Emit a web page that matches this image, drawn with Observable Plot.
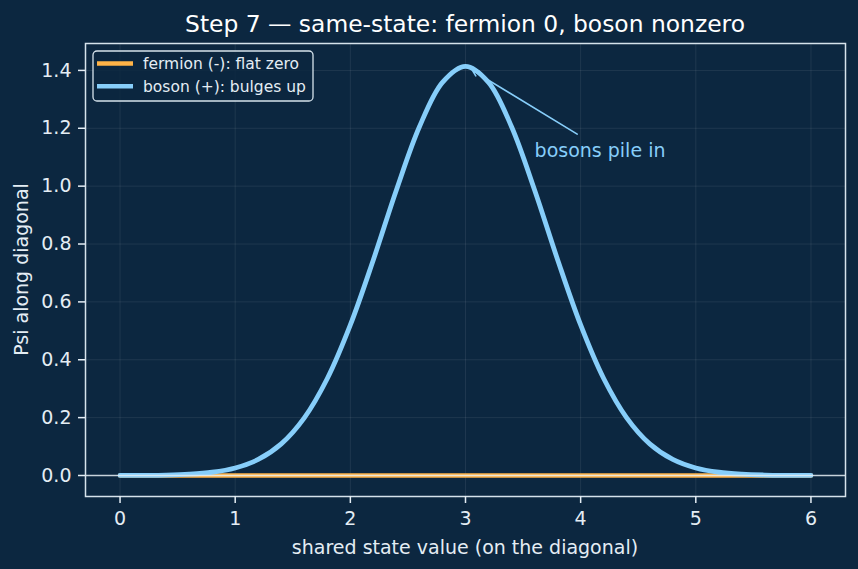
<!DOCTYPE html>
<html>
<head>
<meta charset="utf-8">
<script src="https://cdn.jsdelivr.net/npm/d3@7"></script>
<script src="https://cdn.jsdelivr.net/npm/@observablehq/plot@0.6"></script>
<style>
html,body{margin:0;padding:0;background:#0c2740;}
#wrap{position:relative;width:858px;height:569px;background:#0c2740;}
</style>
</head>
<body>
<div id="wrap"></div>
<script>
// ---- data ----
const titleText = "Step 7 \u2014 same-state: fermion 0, boson nonzero";
const xLabel = "shared state value (on the diagonal)";
const yLabel = "Psi along diagonal";
const seriesNames = ["fermion (-): flat zero", "boson (+): bulges up"];
const seriesColors = ["#ffb347", "#87cefa"];

const xs = [0,0.2,0.4,0.6,0.8,1.0,1.2,1.4,1.6,1.8,2.0,2.2,2.4,2.6,2.8,3.0,
            3.2,3.4,3.6,3.8,4.0,4.2,4.4,4.6,4.8,5.0,5.2,5.4,5.6,5.8,6.0];
const bosonVals = [0.0002,0.0006,0.0016,0.0045,0.0112,0.0259,0.0554,0.1093,0.1992,0.3351,0.5203,
                   0.7457,0.9867,1.2051,1.3588,1.4142,1.3588,1.2051,0.9867,0.7457,0.5203,
                   0.3351,0.1992,0.1093,0.0554,0.0259,0.0112,0.0045,0.0016,0.0006,0.0002];
const fermionVals = [0,0,0,0,0,0,0,0,0,0,0,0,0,0,0,0,0,0,0,0,0,0,0,0,0,0,0,0,0,0,0];

const xTicks = [0,1,2,3,4,5,6];
const yTicks = [0,0.2,0.4,0.6,0.8,1.0,1.2,1.4];

const annotText = ["bosons pile in"];
const annotPoint = [3.06, 1.40];    // arrow tip
const annotTail = [3.97, 1.18];     // arrow start near text
const annotPos = [3.6, 1.1];        // text baseline position

// ---- build ----
const fermionRows = xs.map((x,i)=>({x, y: fermionVals[i]}));
const bosonRows = xs.map((x,i)=>({x, y: bosonVals[i]}));
const annot = [{x1: annotTail[0], y1: annotTail[1], x2: annotPoint[0], y2: annotPoint[1],
                tx: annotPos[0], ty: annotPos[1], label: annotText[0]}];

const W = 858, H = 569, ML = 85, MR = 13, MT = 43, MB = 73;
const fg = "#e4edf4";

const chart = Plot.plot({
  width: W, height: H,
  marginLeft: ML, marginRight: MR, marginTop: MT, marginBottom: MB,
  style: {background: "#0c2740", color: fg, fontFamily: "DejaVu Sans", fontSize: "19px"},
  x: {domain: [-0.3, 6.3]},
  y: {domain: [-0.0726, 1.493]},
  marks: [
    Plot.gridX(xTicks, {stroke: "#ffffff", strokeOpacity: 0.08, strokeWidth: 1}),
    Plot.gridY(yTicks, {stroke: "#ffffff", strokeOpacity: 0.08, strokeWidth: 1}),
    Plot.line(fermionRows, {x: "x", y: "y", stroke: seriesColors[0], strokeWidth: 4.5}),
    Plot.line(bosonRows, {x: "x", y: "y", stroke: seriesColors[1], strokeWidth: 4.8, curve: "catmull-rom"}),
    Plot.ruleY([0], {stroke: "#e6eef4", strokeWidth: 1.5, strokeOpacity: 0.85}),
    Plot.arrow(annot, {x1: "x1", y1: "y1", x2: "x2", y2: "y2", stroke: seriesColors[1],
                       strokeWidth: 1.6, headLength: 6, headAngle: 54}),
    Plot.text(annot, {x: "tx", y: "ty", text: "label", textAnchor: "start", lineAnchor: "bottom",
                      fill: seriesColors[1], fontSize: 19}),
    Plot.frame({stroke: "#d6e3ec", strokeWidth: 1.5}),
    Plot.axisX(xTicks, {tickSize: 7, tickPadding: 8, label: null, fontSize: 19, strokeWidth: 1.5,
                        tickFormat: d3.format("d")}),
    Plot.axisY(yTicks, {tickSize: 7, tickPadding: 7, label: null, fontSize: 19, strokeWidth: 1.5,
                        tickFormat: d3.format(".1f")})
  ]
});

document.getElementById("wrap").appendChild(chart);

const svg = d3.select(chart);
// title
svg.append("text").attr("x", ML + (W - ML - MR) / 2).attr("y", 32.4)
  .attr("text-anchor", "middle").attr("fill", "#ffffff")
  .style("font-size", "23.4px").style("font-family", "DejaVu Sans").text(titleText);
// x label
svg.append("text").attr("x", ML + (W - ML - MR) / 2).attr("y", 554)
  .attr("text-anchor", "middle").attr("fill", fg)
  .style("font-size", "19px").style("font-family", "DejaVu Sans").text(xLabel);
// y label
svg.append("text").attr("transform", `translate(27.5,${MT + (H - MT - MB) / 2}) rotate(-90)`)
  .attr("text-anchor", "middle").attr("fill", fg)
  .style("font-size", "19px").style("font-family", "DejaVu Sans").text(yLabel);

// legend
const lg = svg.append("g");
lg.append("rect").attr("x", 93).attr("y", 51).attr("width", 220).attr("height", 50)
  .attr("rx", 4).attr("fill", "#0c2740").attr("fill-opacity", 0.85)
  .attr("stroke", "#d6e3ec").attr("stroke-width", 1.3);
seriesNames.forEach((name, i) => {
  const cy = 63.5 + i * 22.7;
  lg.append("line").attr("x1", 97).attr("x2", 133).attr("y1", cy).attr("y2", cy)
    .attr("stroke", seriesColors[i]).attr("stroke-width", 4.5);
  lg.append("text").attr("x", 143).attr("y", cy + 5.7).attr("fill", fg)
    .attr("text-anchor", "start")
    .style("font-size", "15.5px").style("font-family", "DejaVu Sans").text(name);
});
</script>
</body>
</html>
